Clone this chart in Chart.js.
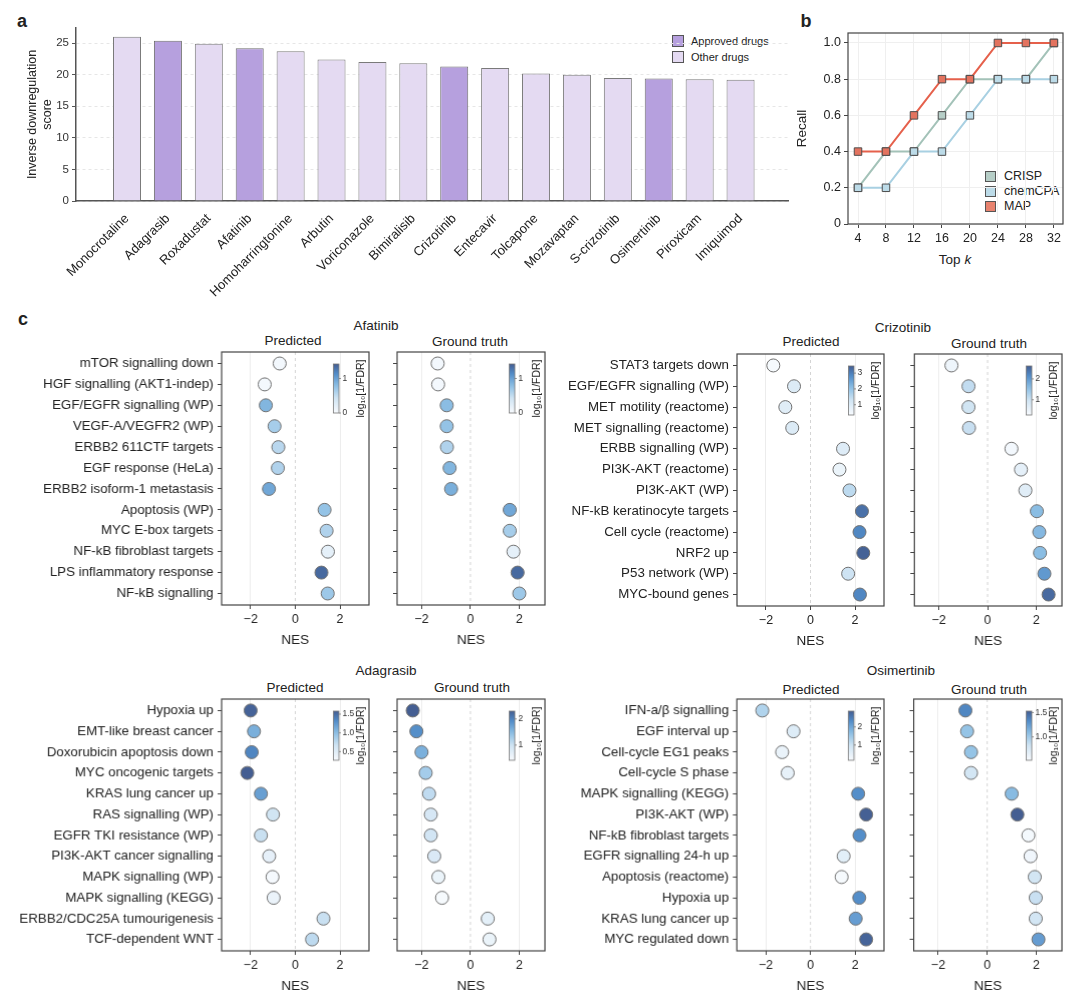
<!DOCTYPE html>
<html>
<head>
<meta charset="utf-8">
<script src="https://cdn.jsdelivr.net/npm/chart.js@4.4.0/dist/chart.umd.min.js"></script>
<style>
  body { margin:0; background:#fff; width:1080px; height:1002px; position:relative; overflow:hidden;
         font-family:'Liberation Sans', Arial, sans-serif; color:#222; }
  .lbl { position:absolute; white-space:nowrap; transform:translate(-50%,-50%); font-size:13.5px; }
  .letter { font-weight:bold; font-size:18px; }
  .sw { position:absolute; border:1px solid #555; box-sizing:border-box; }
  .lt { position:absolute; white-space:nowrap; transform:translateY(-50%); }
</style>
</head>
<body>

<div class="lbl letter" style="left:22px;top:21px">a</div>
<div class="lbl letter" style="left:806px;top:21px">b</div>
<div class="lbl letter" style="left:23px;top:319px">c</div>

<!-- legend a -->
<div class="sw" style="left:672px;top:35px;width:12px;height:12px;background:#b6a0de"></div>
<div class="lt" style="left:691px;top:41px;font-size:11px">Approved drugs</div>
<div class="sw" style="left:672px;top:51px;width:12px;height:12px;background:#e4daf2"></div>
<div class="lt" style="left:691px;top:57px;font-size:11px">Other drugs</div>

<!-- legend b -->
<div class="sw" style="left:985px;top:171px;width:11px;height:11px;background:#b6cec7"></div>
<div class="lt" style="left:1004px;top:176px;font-size:12.5px">CRISP</div>
<div class="sw" style="left:985px;top:186px;width:11px;height:11px;background:#bcdbe8"></div>
<div class="lt" style="left:1004px;top:191px;font-size:12.5px">chemCPA</div>
<div class="sw" style="left:985px;top:201px;width:11px;height:11px;background:#e8826e"></div>
<div class="lt" style="left:1004px;top:206px;font-size:12.5px">MAP</div>
<div class="lbl" style="left:955px;top:259px;font-size:13.5px">Top <i>k</i></div>

<!-- panel c titles -->
<div class="lbl" style="left:376px;top:325px">Afatinib</div>
<div class="lbl" style="left:293px;top:340px">Predicted</div>
<div class="lbl" style="left:470px;top:341px">Ground truth</div>
<div class="lbl" style="left:903px;top:327px">Crizotinib</div>
<div class="lbl" style="left:811px;top:341px">Predicted</div>
<div class="lbl" style="left:989px;top:343px">Ground truth</div>
<div class="lbl" style="left:386px;top:670px">Adagrasib</div>
<div class="lbl" style="left:295px;top:687px">Predicted</div>
<div class="lbl" style="left:472px;top:687px">Ground truth</div>
<div class="lbl" style="left:901px;top:670px">Osimertinib</div>
<div class="lbl" style="left:811px;top:689px">Predicted</div>
<div class="lbl" style="left:989px;top:689px">Ground truth</div>

<script>
// ---- panel a data ----
const drugNames = ['Monocrotaline', 'Adagrasib', 'Roxadustat', 'Afatinib', 'Homoharringtonine', 'Arbutin',
  'Voriconazole', 'Bimiralisib', 'Crizotinib', 'Entecavir', 'Tolcapone', 'Mozavaptan', 'S-crizotinib',
  'Osimertinib', 'Piroxicam', 'Imiquimod'];
const downregScores = [26.0, 25.4, 24.9, 24.2, 23.7, 22.4, 22.0, 21.8, 21.3, 21.05, 20.2, 20.0, 19.5, 19.4, 19.3, 19.2];
const approvedDrugs = ['Adagrasib', 'Afatinib', 'Crizotinib', 'Osimertinib'];
const scoreTicks = [0, 5, 10, 15, 20, 25];

// ---- panel b data ----
const topK = [4, 8, 12, 16, 20, 24, 28, 32];
const recallCRISP   = [0.2, 0.4, 0.4, 0.6, 0.8, 0.8, 0.8, 1.0];
const recallChemCPA = [0.2, 0.2, 0.4, 0.4, 0.6, 0.8, 0.8, 0.8];
const recallMAP     = [0.4, 0.4, 0.6, 0.8, 0.8, 1.0, 1.0, 1.0];
const recallTicks = [0, 0.2, 0.4, 0.6, 0.8, 1.0];

// ---- panel c data ----
const nesTicks = [-2, 0, 2];

const afatinibPathways = ['mTOR signalling down', 'HGF signalling (AKT1-indep)', 'EGF/EGFR signalling (WP)',
  'VEGF-A/VEGFR2 (WP)', 'ERBB2 611CTF targets', 'EGF response (HeLa)', 'ERBB2 isoform-1 metastasis',
  'Apoptosis (WP)', 'MYC E-box targets', 'NF-kB fibroblast targets', 'LPS inflammatory response', 'NF-kB signalling'];
const afatinibPredNES = [-0.70, -1.37, -1.32, -0.93, -0.76, -0.78, -1.18, 1.31, 1.40, 1.46, 1.17, 1.45];
const afatinibPredFDR = [0.05, 0.05, 0.85, 0.65, 0.55, 0.6, 0.95, 0.75, 0.6, 0.2, 1.35, 0.7];
const afatinibTrueNES = [-1.34, -1.32, -0.97, -0.97, -0.96, -0.85, -0.79, 1.61, 1.61, 1.76, 1.93, 2.0];
const afatinibTrueFDR = [0.05, 0.05, 0.8, 0.75, 0.6, 0.85, 0.9, 0.95, 0.65, 0.2, 1.35, 0.7];
const afatinibPredBar = [0, 1.42];
const afatinibPredBarTicks = ['0', '1'];
const afatinibTrueBar = [0, 1.42];
const afatinibTrueBarTicks = ['0', '1'];

const crizotinibPathways = ['STAT3 targets down', 'EGF/EGFR signalling (WP)', 'MET motility (reactome)',
  'MET signalling (reactome)', 'ERBB signalling (WP)', 'PI3K-AKT (reactome)', 'PI3K-AKT (WP)',
  'NF-kB keratinocyte targets', 'Cell cycle (reactome)', 'NRF2 up', 'P53 network (WP)', 'MYC-bound genes'];
const crizotinibPredNES = [-1.67, -0.74, -1.13, -0.82, 1.46, 1.30, 1.75, 2.31, 2.20, 2.37, 1.69, 2.22];
const crizotinibPredFDR = [0.4, 1.0, 0.9, 1.0, 0.95, 0.65, 1.5, 3.2, 2.9, 3.4, 1.3, 2.9];
const crizotinibTrueNES = [-1.48, -0.78, -0.78, -0.76, 0.98, 1.37, 1.55, 2.02, 2.12, 2.15, 2.33, 2.50];
const crizotinibTrueFDR = [0.45, 1.1, 0.95, 1.05, 0.35, 0.6, 0.7, 1.6, 1.65, 1.6, 2.0, 2.5];
const crizotinibPredBar = [0.35, 3.45];
const crizotinibPredBarTicks = ['1', '2', '3'];
const crizotinibTrueBar = [0.27, 2.62];
const crizotinibTrueBarTicks = ['1', '2'];

const adagrasibPathways = ['Hypoxia up', 'EMT-like breast cancer', 'Doxorubicin apoptosis down',
  'MYC oncogenic targets', 'KRAS lung cancer up', 'RAS signalling (WP)', 'EGFR TKI resistance (WP)',
  'PI3K-AKT cancer signalling', 'MAPK signalling (WP)', 'MAPK signalling (KEGG)',
  'ERBB2/CDC25A tumourigenesis', 'TCF-dependent WNT'];
const adagrasibPredNES = [-2.0, -1.85, -1.95, -2.15, -1.54, -1.0, -1.54, -1.17, -1.02, -0.97, 1.26, 0.75];
const adagrasibPredFDR = [1.55, 1.1, 1.35, 1.58, 1.2, 0.65, 0.7, 0.45, 0.3, 0.4, 0.7, 0.75];
const adagrasibTrueNES = [-2.36, -2.21, -2.0, -1.83, -1.69, -1.62, -1.62, -1.48, -1.31, -1.16, 0.71, 0.78];
const adagrasibTrueFDR = [2.3, 1.9, 1.6, 1.3, 1.1, 0.9, 0.95, 0.85, 0.6, 0.45, 0.7, 0.6];
const adagrasibPredBar = [0.27, 1.58];
const adagrasibPredBarTicks = ['0.5', '1.0', '1.5'];
const adagrasibTrueBar = [0.42, 2.3];
const adagrasibTrueBarTicks = ['1', '2'];

const osimertinibPathways = ['IFN-a/β signalling', 'EGF interval up', 'Cell-cycle EG1 peaks',
  'Cell-cycle S phase', 'MAPK signalling (KEGG)', 'PI3K-AKT (WP)', 'NF-kB fibroblast targets',
  'EGFR signalling 24-h up', 'Apoptosis (reactome)', 'Hypoxia up', 'KRAS lung cancer up', 'MYC regulated down'];
const osimertinibPredNES = [-2.16, -0.76, -1.27, -1.02, 2.14, 2.5, 2.2, 1.49, 1.40, 2.19, 2.03, 2.5];
const osimertinibPredFDR = [1.3, 0.7, 0.45, 0.5, 2.3, 2.85, 2.3, 0.6, 0.2, 2.3, 2.1, 2.8];
const osimertinibTrueNES = [-0.89, -0.82, -0.66, -0.66, 1.0, 1.23, 1.68, 1.77, 1.94, 1.98, 1.98, 2.09];
const osimertinibTrueFDR = [1.35, 1.05, 1.05, 0.8, 1.1, 1.53, 0.55, 0.58, 0.8, 0.85, 0.8, 1.25];
const osimertinibPredBar = [0.16, 2.87];
const osimertinibPredBarTicks = ['1', '2'];
const osimertinibTrueBar = [0.52, 1.53];
const osimertinibTrueBarTicks = ['1.0', '1.5'];

// 設置全局字體
Chart.defaults.font.family = "'Liberation Sans', Arial, sans-serif";
Chart.defaults.color = '#222';
Chart.defaults.animation = false;

function addCanvas(left, top, w, h) {
  const c = document.createElement('canvas');
  c.width = w; c.height = h;
  c.style.cssText = 'position:absolute;left:' + left + 'px;top:' + top + 'px;width:' + w + 'px;height:' + h + 'px';
  document.body.appendChild(c);
  return c;
}

// white -> blue -> navy colour map
const blueStops = [[0, [248, 251, 254]], [0.3, [208, 228, 243]], [0.55, [142, 192, 229]], [0.8, [82, 140, 200]], [1, [68, 94, 146]]];
function blues(t) {
  t = Math.max(0, Math.min(1, t));
  for (let i = 1; i < blueStops.length; i++) {
    if (t <= blueStops[i][0]) {
      const [t0, c0] = blueStops[i - 1], [t1, c1] = blueStops[i];
      const f = (t - t0) / (t1 - t0);
      const c = c0.map((v, k) => Math.round(v + (c1[k] - v) * f));
      return 'rgb(' + c.join(',') + ')';
    }
  }
  return 'rgb(68,94,146)';
}

// box round the plot area
const frame = {
  id: 'frame',
  afterDraw(chart, args, o) {
    if (!o || !o.show) return;
    const { ctx, chartArea: a } = chart;
    ctx.save();
    ctx.strokeStyle = '#444';
    ctx.lineWidth = 1.2;
    ctx.strokeRect(a.left, a.top, a.right - a.left, a.bottom - a.top);
    ctx.restore();
  }
};

// dashed line at NES = 0
const zeroLine = {
  id: 'zeroLine',
  beforeDatasetsDraw(chart, args, o) {
    if (!o || !o.show) return;
    const { ctx, chartArea: a, scales } = chart;
    const x = scales.x.getPixelForValue(0);
    ctx.save();
    ctx.strokeStyle = '#d4d4d4';
    ctx.lineWidth = 1;
    ctx.setLineDash([3, 3]);
    ctx.beginPath(); ctx.moveTo(x, a.top); ctx.lineTo(x, a.bottom); ctx.stroke();
    ctx.restore();
  }
};

// colour bar for log10[1/FDR]
const colorbar = {
  id: 'colorbar',
  afterDraw(chart, args, o) {
    if (!o || !o.range) return;
    const { ctx, chartArea: a } = chart;
    const x = a.right - 35.5, y = a.top + 12, w = 5.5, h = 49;
    const g = ctx.createLinearGradient(0, y + h, 0, y);
    for (let s = 0; s <= 10; s++) g.addColorStop(s / 10, blues(s / 10));
    ctx.save();
    ctx.fillStyle = g;
    ctx.fillRect(x, y, w, h);
    ctx.strokeStyle = '#777';
    ctx.lineWidth = 0.8;
    ctx.strokeRect(x, y, w, h);
    ctx.fillStyle = '#333';
    ctx.font = "8.5px 'Liberation Sans', Arial, sans-serif";
    ctx.textAlign = 'left';
    ctx.textBaseline = 'middle';
    o.ticks.forEach(t => {
      const ty = y + h - (parseFloat(t) - o.range[0]) / (o.range[1] - o.range[0]) * h;
      ctx.beginPath(); ctx.moveTo(x + w, ty); ctx.lineTo(x + w + 2, ty); ctx.stroke();
      ctx.fillText(t, x + w + 3.5, ty);
    });
    ctx.translate(a.right - 8, y + h / 2);
    ctx.rotate(-Math.PI / 2);
    ctx.textAlign = 'center';
    ctx.font = "10.5px 'Liberation Sans', Arial, sans-serif";
    ctx.fillStyle = '#222';
    ctx.fillText('log\u2081\u2080[1/FDR]', 0, 0);
    ctx.restore();
  }
};

// ---------- panel a ----------
(function () {
  const left = 0, top = 0, w = 795, h = 310;
  const area = { l: 76, t: 28, r: 788, b: 201 };
  const pick = approved => drugNames.map((d, i) => ({ x: i, y: downregScores[i], ok: approvedDrugs.includes(d) }))
    .filter(p => p.ok === approved).map(p => ({ x: p.x, y: p.y }));
  new Chart(addCanvas(left, top, w, h), {
    type: 'bar',
    data: {
      datasets: [
        { label: 'Approved drugs', data: pick(true), backgroundColor: '#b6a0de', borderColor: '#6f6f6f',
          borderWidth: 1, borderSkipped: 'bottom', grouped: false, categoryPercentage: 1, barPercentage: 0.685 },
        { label: 'Other drugs', data: pick(false), backgroundColor: '#e4daf2', borderColor: '#7a7a7a',
          borderWidth: 1, borderSkipped: 'bottom', grouped: false, categoryPercentage: 1, barPercentage: 0.685 }
      ]
    },
    options: {
      responsive: false,
      layout: { padding: { top: area.t - top, right: left + w - area.r, left: 0, bottom: 0 } },
      plugins: { legend: { display: false }, tooltip: { enabled: false } },
      scales: {
        x: {
          type: 'linear', min: -1.247, max: 16.16, offset: false,
          afterBuildTicks: s => { s.ticks = drugNames.map((d, i) => ({ value: i })); },
          afterFit: s => { s.height = h - area.b; },
          ticks: { callback: v => drugNames[v], minRotation: 45, maxRotation: 45, autoSkip: false,
                   font: { size: 13 }, color: '#222', padding: 2 },
          grid: { display: false, offset: false },
          border: { color: '#555', width: 1.5 }
        },
        y: {
          min: 0, max: 27.4,
          afterBuildTicks: s => { s.ticks = scoreTicks.map(v => ({ value: v })); },
          afterFit: s => { s.width = area.l - left; },
          ticks: { font: { size: 11.5 }, color: '#333', padding: 3 },
          grid: { color: '#e6e6e6', tickColor: '#555', tickLength: 4 },
          border: { color: '#555', width: 1.5, dash: [3, 3] },
          title: { display: true, text: ['Inverse downregulation', 'score'], font: { size: 12.5 },
                   color: '#222', padding: { top: 25, bottom: 0 } }
        }
      }
    }
  });
})();

// ---------- panel b ----------
(function () {
  const left = 790, top = 0, w = 290, h = 280;
  const area = { l: 848, t: 33, r: 1063, b: 224 };
  const pts = arr => topK.map((k, i) => ({ x: k, y: arr[i] }));
  const ds = (label, arr, line, fill, order) => ({
    label, data: pts(arr), borderColor: line, borderWidth: 2, tension: 0, order,
    pointStyle: 'rect', pointRadius: 5.3, pointHoverRadius: 5.3,
    pointBackgroundColor: fill, pointBorderColor: '#4d4d4d', pointBorderWidth: 1
  });
  new Chart(addCanvas(left, top, w, h), {
    type: 'line',
    data: {
      datasets: [
        ds('CRISP', recallCRISP, '#a3c2b8', '#b6cec7', 3),
        ds('chemCPA', recallChemCPA, '#a8d0e2', '#bcdbe8', 2),
        ds('MAP', recallMAP, '#e5604b', '#e3735f', 1)
      ]
    },
    options: {
      responsive: false,
      layout: { padding: { top: area.t - top, right: left + w - area.r, left: 0, bottom: 0 } },
      plugins: { legend: { display: false }, tooltip: { enabled: false }, frame: { show: true } },
      scales: {
        x: {
          type: 'linear', min: 2.57, max: 33.3, offset: false,
          afterBuildTicks: s => { s.ticks = topK.map(v => ({ value: v })); },
          afterFit: s => { s.height = h - area.b; },
          ticks: { font: { size: 12.5 }, color: '#222', padding: 3, maxRotation: 0 },
          grid: { color: '#efefef', tickColor: '#444', tickLength: 4 },
          border: { display: false }
        },
        y: {
          min: 0, max: 1.055,
          afterBuildTicks: s => { s.ticks = recallTicks.map(v => ({ value: v })); },
          afterFit: s => { s.width = area.l - left; },
          ticks: { callback: v => v === 0 ? '0' : v.toFixed(1), font: { size: 12.5 }, color: '#222', padding: 3 },
          grid: { color: '#efefef', tickColor: '#444', tickLength: 4 },
          border: { display: false },
          title: { display: true, text: 'Recall', font: { size: 13.5 }, color: '#222', padding: { top: 4, bottom: 0 } }
        }
      }
    },
    plugins: [frame]
  });
})();

// ---------- panel c ----------
function dotPlot(box, canvasLeft, pathways, nes, fdr, bar, barTicks, xRange, showNames) {
  const top = box.t - 12, h = box.b + 47 - top;
  const left = canvasLeft, w = box.r + 11 - left;
  new Chart(addCanvas(left, top, w, h), {
    type: 'scatter',
    data: {
      datasets: [{
        data: nes.map((v, i) => ({ x: v, y: i })),
        pointRadius: 6.5, pointHoverRadius: 6.5,
        pointBackgroundColor: fdr.map(v => blues((v - bar[0]) / (bar[1] - bar[0]))),
        pointBorderColor: '#707070', pointBorderWidth: 1
      }]
    },
    options: {
      responsive: false,
      layout: { padding: { top: box.t - top, right: left + w - box.r, left: 0, bottom: 0 } },
      plugins: {
        legend: { display: false }, tooltip: { enabled: false },
        frame: { show: true }, zeroLine: { show: true },
        colorbar: { range: bar, ticks: barTicks }
      },
      scales: {
        x: {
          type: 'linear', min: xRange[0], max: xRange[1],
          afterBuildTicks: s => { s.ticks = nesTicks.map(v => ({ value: v })); },
          afterFit: s => { s.height = h - (box.b - top); },
          ticks: { callback: v => v < 0 ? '\u2212' + Math.abs(v) : String(v), font: { size: 12.5 },
                   color: '#222', padding: 3, maxRotation: 0 },
          grid: { color: c => (c.tick && c.tick.value === 0) ? 'rgba(0,0,0,0)' : '#ececec',
                  tickColor: '#444', tickLength: 4 },
          border: { display: false },
          title: { display: true, text: 'NES', font: { size: 13.5 }, color: '#222', padding: { top: 2, bottom: 4 } }
        },
        y: {
          type: 'linear', reverse: true, min: -0.55, max: pathways.length - 0.45,
          afterBuildTicks: s => { s.ticks = pathways.map((p, i) => ({ value: i })); },
          afterFit: s => { s.width = box.l - left; },
          ticks: { callback: v => showNames ? pathways[v] : '', font: { size: 13.3 }, color: '#222',
                   padding: 4, autoSkip: false },
          grid: { drawOnChartArea: false, tickColor: '#444', tickLength: 4 },
          border: { display: false }
        }
      }
    },
    plugins: [frame, zeroLine, colorbar]
  });
}

const predRange = [-3.3, 3.3];
const trueRange = [-3.0, 3.05];

dotPlot({ l: 221, t: 352, r: 368.5, b: 605 }, 0, afatinibPathways, afatinibPredNES, afatinibPredFDR,
  afatinibPredBar, afatinibPredBarTicks, predRange, true);
dotPlot({ l: 397, t: 352, r: 544.5, b: 605 }, 385, afatinibPathways, afatinibTrueNES, afatinibTrueFDR,
  afatinibTrueBar, afatinibTrueBarTicks, trueRange, false);

dotPlot({ l: 737, t: 354, r: 884.3, b: 606 }, 540, crizotinibPathways, crizotinibPredNES, crizotinibPredFDR,
  crizotinibPredBar, crizotinibPredBarTicks, predRange, true);
dotPlot({ l: 914.3, t: 354, r: 1061.7, b: 606 }, 902, crizotinibPathways, crizotinibTrueNES, crizotinibTrueFDR,
  crizotinibTrueBar, crizotinibTrueBarTicks, trueRange, false);

dotPlot({ l: 221, t: 699.3, r: 368.5, b: 951 }, 0, adagrasibPathways, adagrasibPredNES, adagrasibPredFDR,
  adagrasibPredBar, adagrasibPredBarTicks, predRange, true);
dotPlot({ l: 397, t: 699.3, r: 544.5, b: 951 }, 385, adagrasibPathways, adagrasibTrueNES, adagrasibTrueFDR,
  adagrasibTrueBar, adagrasibTrueBarTicks, trueRange, false);

dotPlot({ l: 736.3, t: 699.3, r: 883.7, b: 951 }, 540, osimertinibPathways, osimertinibPredNES, osimertinibPredFDR,
  osimertinibPredBar, osimertinibPredBarTicks, predRange, true);
dotPlot({ l: 913.6, t: 699.3, r: 1061.7, b: 951 }, 902, osimertinibPathways, osimertinibTrueNES, osimertinibTrueFDR,
  osimertinibTrueBar, osimertinibTrueBarTicks, trueRange, false);
</script>
</body>
</html>
